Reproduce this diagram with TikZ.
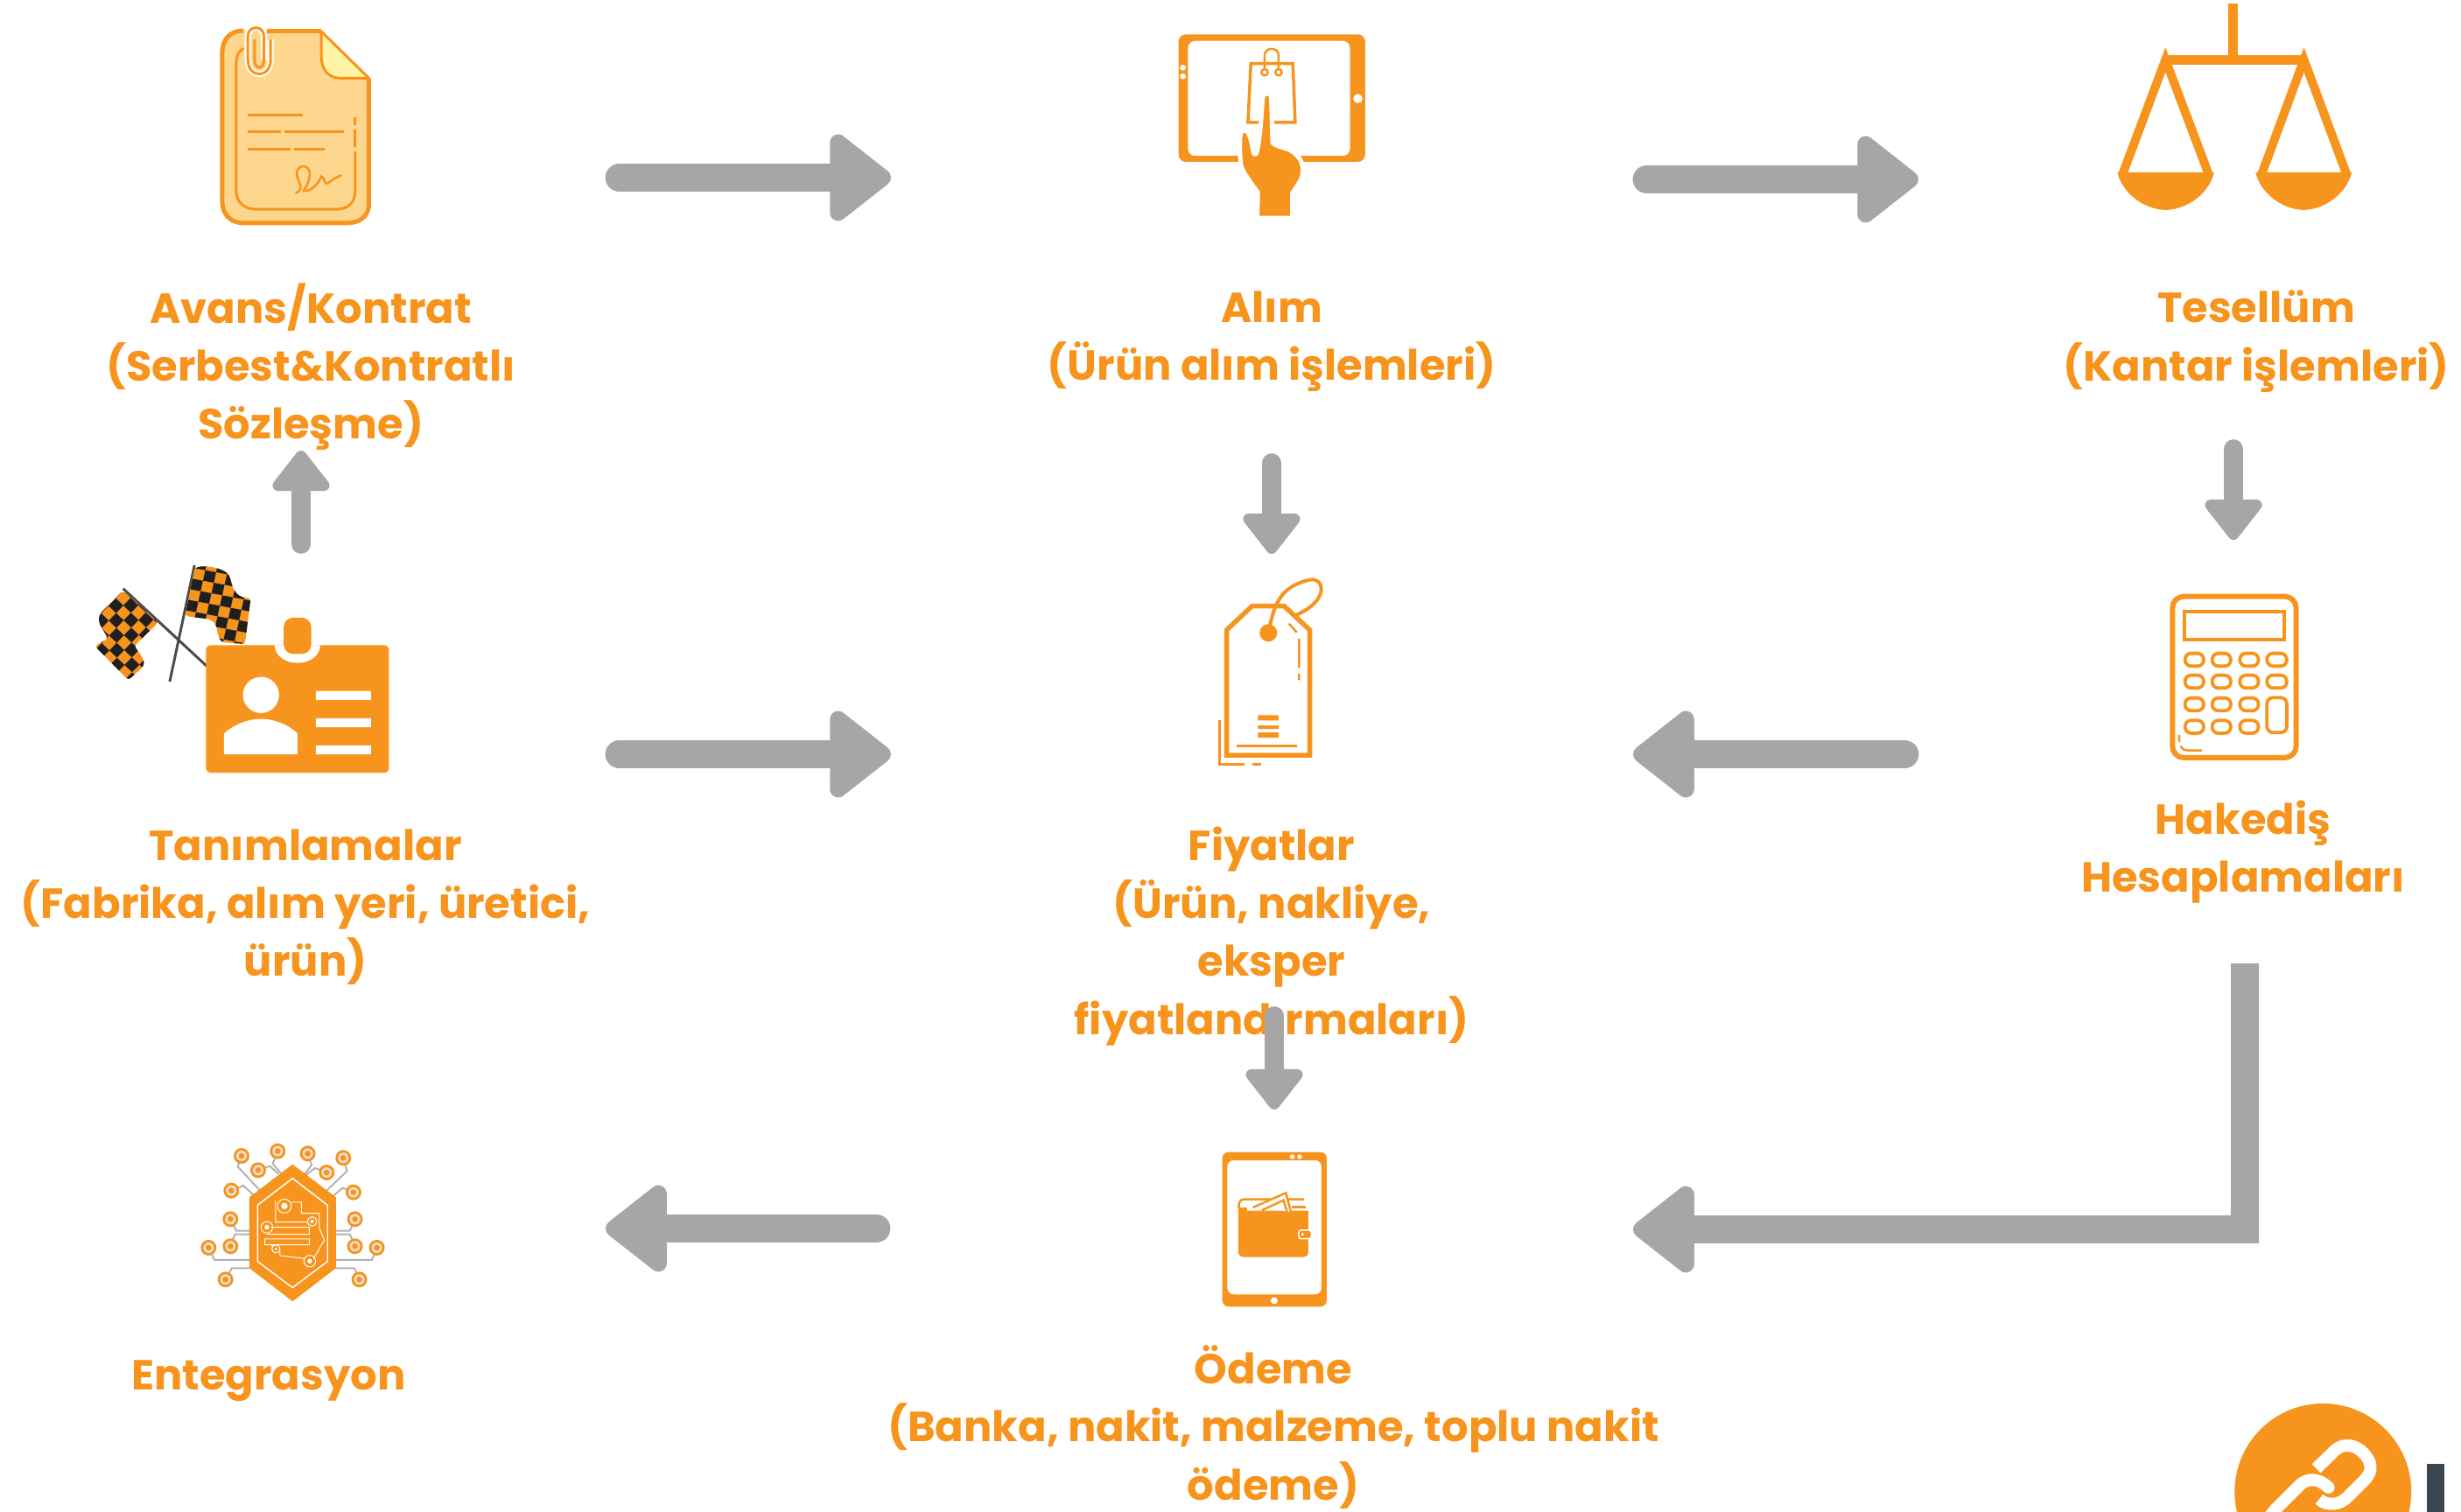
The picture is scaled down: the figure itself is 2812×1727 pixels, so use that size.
\documentclass[tikz,border=0pt]{standalone}
\usepackage{fontspec}
\setmainfont{Poppins}
\usetikzlibrary{arrows.meta}
\definecolor{org}{HTML}{F7941D}
\definecolor{gry}{HTML}{A6A6A6}
\definecolor{docfill}{HTML}{FDD78E}
\definecolor{foldfill}{HTML}{FFF3A5}
\definecolor{barcol}{HTML}{3A4750}
\def\pxu{0.8504pt}
\tikzset{
  zm/.style={shift={(#1)},x=0.01cm,y=-0.01cm},
  lbl/.style={text=org,font=\fontsize{41}{56.5}\selectfont\bfseries,align=center,inner sep=0pt},
  bigarrow/.style={draw=gry,line width=28pt,line cap=round,line join=miter,
    -{Triangle[length=65pt,width=97pt,line width=17pt,round]}},
  smallarrow/.style={draw=gry,line width=18.5pt,line cap=round,
    -{Triangle[length=43pt,width=64pt,line width=11pt,round]}},
  ol/.style={draw=org,line width=#1*\pxu},
  ol/.default=3,
  trace/.style={draw=gry!85,line width=2*\pxu,line join=round},
  wl/.style={draw=white,line width=#1*\pxu},
  wl/.default=1.5
}
\newcommand{\chip}[2]{\fill[org] (#1,#2) circle (27);\fill[white!75!gry!90!org] (#1,#2) circle (18);\fill[org] (#1,#2) circle (10);}
\begin{document}
\begin{tikzpicture}[x=0.03cm,y=-0.03cm]
\clip (0,0) rectangle (2812,1727);
\fill[white] (0,0) rectangle (2812,1727);

% labels
\node[lbl] (lavans) at (355,419) {Avans/Kontrat\\(Serbest\&Kontratlı\\Sözleşme)};
\node[lbl] (lalim) at (1453,390) {Alım\\(Ürün alım işlemleri)};
\node[lbl] (ltes) at (2578,390) {Tesellüm\\(Kantar işlemleri)};
\node[lbl] (ltan) at (349,1037) {Tanımlamalar\\(Fabrika, alım yeri, üretici,\\ürün)};
\node[lbl] (lfiy) at (1453,1070) {Fiyatlar\\(Ürün, nakliye,\\eksper\\fiyatlandırmaları)};
\node[lbl] (lhak) at (2563,974) {Hakediş\\Hesaplamaları};
\node[lbl] (lent) at (307,1578) {Entegrasyon};
\node[lbl] (lode) at (1455,1631) {Ödeme\\(Banka, nakit, malzeme, toplu nakit\\ödeme)};

% connector ends
\coordinate (a1s) at (708,203);   \coordinate (a1e) at (1018,203);
\coordinate (a2s) at (1882,205);  \coordinate (a2e) at (2192,205);
\coordinate (a3s) at (344,622);   \coordinate (a3e) at (344,515);
\coordinate (a4s) at (1453,529);  \coordinate (a4e) at (1453,633);
\coordinate (a5s) at (2552,513);  \coordinate (a5e) at (2552,617);
\coordinate (a6s) at (708,862);   \coordinate (a6e) at (1018,862);
\coordinate (a7s) at (2176,862);  \coordinate (a7e) at (1866,862);
\coordinate (a8s) at (1456,1161); \coordinate (a8e) at (1456,1268);
\coordinate (a9s) at (1001,1404); \coordinate (a9e) at (692,1404);
\coordinate (a10s) at (2565,1101);\coordinate (a10c) at (2565,1405);\coordinate (a10e) at (1866,1405);
\foreach \n in {1,2,6,7,9}{\draw[bigarrow] (a\n s) -- (a\n e);}
\foreach \n in {3,4,5,8}{\draw[smallarrow] (a\n s) -- (a\n e);}
\draw[bigarrow,line cap=butt] (a10s) -- (a10c) -- (a10e);

% document icon
\begin{scope}[zm={80,0}]
\path[fill=docfill] (595,105) -- (862,105) -- (1025,268) -- (1025,700) .. controls (1025,745) and (990,765) .. (950,765) -- (595,765) .. controls (550,765) and (522,735) .. (522,690) -- (522,180) .. controls (522,135) and (550,105) .. (595,105) -- cycle;
\draw[ol=5] (595,105) .. controls (550,105) and (522,135) .. (522,180) -- (522,690) .. controls (522,735) and (550,765) .. (595,765) -- (950,765) .. controls (990,765) and (1025,745) .. (1025,700) -- (1025,268);
\draw[ol=5] (675,108) -- (862,108);
\fill[foldfill] (862,108) -- (1025,268) -- (925,268) .. controls (885,268) and (862,235) .. (862,195) -- cycle;
\draw[ol=3,line join=round] (862,108) -- (1025,268) -- (925,268) .. controls (885,268) and (862,235) .. (862,195) -- cycle;
\draw[ol=3] (595,165) .. controls (578,178) and (570,190) .. (570,220) -- (570,655) .. controls (570,695) and (600,718) .. (640,718) -- (910,718) .. controls (955,718) and (978,695) .. (978,655) -- (978,520);
\draw[ol=3] (978,505) -- (978,445) (978,430) -- (978,402);
\draw[ol=3] (608,396) -- (798,396) (608,453) -- (722,453) (736,453) -- (940,453) (608,512) -- (755,512) (768,512) -- (873,512);
\draw[ol=2.5,line cap=round] (775,662) .. controls (810,645) and (775,620) .. (778,590) .. controls (785,560) and (825,565) .. (822,600) .. controls (820,640) and (790,660) .. (805,655) .. controls (840,655) and (860,610) .. (862,605) .. controls (868,600) and (875,640) .. (885,628) .. controls (900,615) and (915,608) .. (930,602);
\draw[draw=white,line width=7*\pxu] (688,135) -- (688,205) .. controls (688,270) and (610,270) .. (610,205) -- (610,125) .. controls (610,85) and (665,85) .. (665,125) -- (665,205);
\draw[ol=3] (688,135) -- (688,205) .. controls (688,270) and (610,270) .. (610,205) -- (610,125) .. controls (610,85) and (665,85) .. (665,125) -- (665,205) .. controls (665,240) and (633,240) .. (633,205) -- (633,135);
\end{scope}

% tablet with hand
\begin{scope}[zm={1300,0}]
\fill[org,even odd rule,rounded corners=7pt] (140,118) rectangle (780,555) (172,140) rectangle (728,535);
\fill[white] (155,232) circle (10) (155,262) circle (10) (755,338) circle (16);
\draw[ol=3.5] (388,218) -- (532,218) -- (540,420) -- (378,420) -- cycle;
\draw[ol=2.5] (435,245) -- (435,190) .. controls (435,160) and (483,160) .. (483,190) -- (483,245);
\draw[ol=2.5,fill=white] (435,248) circle (11) (483,248) circle (11);
\draw[draw=white,line width=5*\pxu,fill=org,line join=round] (445,320) .. controls (455,320) and (458,330) .. (458,338) -- (462,490) .. controls (490,510) and (510,505) .. (530,520) .. controls (560,540) and (570,565) .. (565,600) .. controls (560,625) and (535,650) .. (530,665) -- (530,748) -- (410,748) -- (412,660) .. controls (390,630) and (360,590) .. (355,570) .. controls (348,530) and (350,480) .. (352,465) .. controls (355,440) and (375,440) .. (385,470) .. controls (395,500) and (395,535) .. (403,530) .. controls (415,525) and (425,400) .. (428,338) .. controls (430,325) and (438,320) .. (445,320) -- cycle;
\end{scope}

% scales
\begin{scope}[zm={2380,0}]
\fill[org] (498,12) rectangle (530,200);
\draw[draw=org,line width=11*\pxu,line join=round] (285,207) -- (760,207);
\draw[draw=org,line width=10*\pxu] (135,600) -- (283,205) -- (432,600) (612,600) -- (758,205) -- (905,600);
\fill[org] (118,592) -- (450,592) .. controls (430,670) and (350,720) .. (284,720) .. controls (218,720) and (138,670) .. (118,592) -- cycle;
\fill[org] (592,592) -- (922,592) .. controls (902,670) and (822,720) .. (757,720) .. controls (692,720) and (612,670) .. (592,592) -- cycle;
\end{scope}

% flags and card
\begin{scope}[zm={90,630}]
\draw[draw=black!70,line width=3*\pxu] (397,48) -- (312,447) (152,128) -- (440,395);
\begin{scope}
\clip[rounded corners=3pt] (397,58) .. controls (440,45) and (490,60) .. (515,80) .. controls (525,110) and (530,160) .. (590,160) -- (570,318) -- (490,312) .. controls (470,280) and (480,245) .. (440,232) -- (365,222) -- cycle;
\fill[org] (340,30) rectangle (610,340);
\foreach \i in {-2,...,8}{\foreach \j in {-2,...,10}{
  \pgfmathtruncatemacro\k{\i+\j+20}
  \ifodd\k\fill[black!88] ({397+\i*37-\j*8},{58+\i*7+\j*36}) -- ++(37,7) -- ++(-8,36) -- ++(-37,-7) -- cycle;\fi}}
\end{scope}
\begin{scope}
\clip[rounded corners=3pt] (152,135) -- (272,245) -- (190,325) .. controls (205,345) and (225,370) .. (222,395) -- (170,442) -- (55,325) -- (100,300) .. controls (85,270) and (65,250) .. (72,215) -- cycle;
\fill[org] (40,110) rectangle (290,450);
\foreach \i in {-3,...,9}{\foreach \j in {-2,...,9}{
  \pgfmathtruncatemacro\k{\i+\j+20}
  \ifodd\k\fill[black!88] ({152+\i*26-\j*25},{135+\i*25+\j*26}) -- ++(26,25) -- ++(-25,26) -- ++(-26,-25) -- cycle;\fi}}
\end{scope}
\fill[org,rounded corners=5pt] (436,322) rectangle (1064,760);
\fill[white] (672,310) rectangle (828,322);
\fill[white] (672,322) -- (672,322) .. controls (672,360) and (710,383) .. (750,383) .. controls (790,383) and (828,360) .. (828,322) -- cycle;
\fill[org,rounded corners=9pt] (703,228) rectangle (797,352);
\fill[white] (625,493) circle (62);
\fill[white] (498,697) -- (498,625) .. controls (530,595) and (580,575) .. (625,575) .. controls (670,575) and (720,595) .. (750,625) -- (750,697) -- cycle;
\fill[white] (813,479) rectangle (1002,510) (813,573) rectangle (1002,604) (813,666) rectangle (1002,697);
\end{scope}

% price tag
\begin{scope}[zm={1360,640}]
\draw[ol=4,line cap=round] (272,230) .. controls (290,150) and (310,90) .. (410,68) .. controls (460,58) and (480,140) .. (360,190);
\draw[ol=5.5] (125,240) -- (212,158) -- (322,158) -- (410,240) -- (410,670) -- (125,670) -- cycle;
\fill[org] (268,250) circle (30);
\draw[ol=2.5] (338,218) -- (365,248) (373,270) -- (373,370) (373,390) -- (373,412);
\fill[org] (232,532) rectangle (303,550) (232,568) rectangle (303,580) (232,592) rectangle (303,610);
\draw[ol=3.5] (160,638) -- (365,638);
\draw[ol=3] (100,548) -- (100,700) -- (187,700) (212,700) -- (242,700);
\end{scope}

% calculator
\begin{scope}[zm={2450,660}]
\draw[ol=6,rounded corners=11pt] (97,65) rectangle (521,618);
\draw[ol=4] (137,117) rectangle (481,212);
\foreach \y in {282,357,435,512}{\foreach \x in {172,265,360}{
  \draw[ol=3.8,rounded corners=6pt] (\x-32,\y-22) rectangle (\x+32,\y+22);}}
\foreach \y in {282,357}{\draw[ol=3.8,rounded corners=6pt] (421,\y-22) rectangle (489,\y+22);}
\draw[ol=3.8,rounded corners=6pt] (421,412) rectangle (489,532);
\draw[ol=2.5] (120,540) -- (120,565) (125,578) .. controls (130,590) and (140,593) .. (150,593) -- (198,593);
\end{scope}

% integration
\begin{scope}[zm={210,1290}]
\draw[trace] (198,93) -- (185,130) -- (260,210) (322,77) -- (305,120) -- (335,155) (255,142) -- (295,128) -- (325,155) (163,212) -- (205,195) -- (240,228) (160,310) -- (180,350) -- (225,350) (160,403) -- (175,362) -- (225,362) (85,408) -- (105,450) -- (225,450) (143,517) -- (165,478) -- (225,478) (425,85) -- (438,125) -- (415,155) (490,150) -- (450,135) -- (420,158) (547,100) -- (560,145) -- (490,212) (582,218) -- (545,203) -- (510,232) (587,310) -- (570,350) -- (522,350) (587,403) -- (570,362) -- (522,362) (662,408) -- (645,450) -- (522,450) (602,517) -- (585,478) -- (522,478);
\chip{198}{93}\chip{322}{77}\chip{425}{85}\chip{547}{100}\chip{255}{142}\chip{490}{150}\chip{163}{212}\chip{582}{218}\chip{160}{310}\chip{587}{310}\chip{160}{403}\chip{587}{403}\chip{85}{408}\chip{662}{408}\chip{143}{517}\chip{602}{517}
\fill[org] (373,122) -- (522,235) -- (522,478) -- (373,592) -- (225,478) -- (225,235) -- cycle;
\draw[wl=1.5] (373,170) -- (493,262) -- (493,455) -- (373,545) -- (253,455) -- (253,262) -- cycle;
\draw[wl=1] (315,245) -- (315,320) -- (425,320) (370,252) -- (403,252) -- (403,290) -- (465,290) -- (465,340) -- (482,382) -- (445,445) (300,338) -- (430,338) -- (430,362) -- (285,362) (290,338) (278,378) rectangle (430,398) (330,418) -- (330,435) -- (415,445) (298,395) -- (305,405);
\draw[wl=1] (345,265) circle (24) (440,318) circle (16) (285,338) circle (20) (316,412) circle (14) (432,454) circle (20);
\fill[white] (345,265) circle (11) (440,318) circle (6) (285,338) circle (8) (316,412) circle (5) (432,454) circle (8);
\end{scope}

% wallet tablet
\begin{scope}[zm={1370,1300}]
\fill[org,even odd rule,rounded corners=6pt] (80,50) rectangle (438,580) (97,78) rectangle (420,538);
\fill[white] (320,66) circle (8) (345,66) circle (8) (258,560) circle (12);
\fill[org,rounded corners=5pt] (135,245) rectangle (375,410);
\fill[white] (135,230) rectangle (380,255);
\fill[org] (135,240) rectangle (165,270);
\draw[ol=2.5] (360,212) -- (155,212) .. controls (130,212) and (130,255) .. (155,255) -- (375,255);
\draw[ol=2.5,fill=white] (185,240) -- (298,190) -- (315,255);
\draw[ol=2.5] (215,250) -- (290,215) -- (302,255);
\draw[ol=2.5] (318,238) -- (365,238);
\draw[draw=white,line width=1.5*\pxu,fill=org,rounded corners=2pt] (342,318) rectangle (385,347);
\fill[white] (355,332) circle (5);
\end{scope}

% link badge
\begin{scope}[zm={2500,1570}]
\fill[org] (463,405) circle (303);
\fill[barcol] (820,310) rectangle (878,480);
\draw[draw=white,line width=14*\pxu] (440,325) -- (505,262) .. controls (535,235) and (575,245) .. (600,270) .. controls (630,300) and (635,330) .. (610,360) -- (545,425) .. controls (520,450) and (475,455) .. (450,430);
\draw[draw=org,line width=18*\pxu] (480,392) .. controls (450,360) and (415,355) .. (385,380);
\draw[draw=white,line width=14*\pxu,line cap=round] (482,390) .. controls (450,360) and (415,355) .. (385,380) -- (300,465) -- (280,490);
\end{scope}
\end{tikzpicture}
\end{document}
